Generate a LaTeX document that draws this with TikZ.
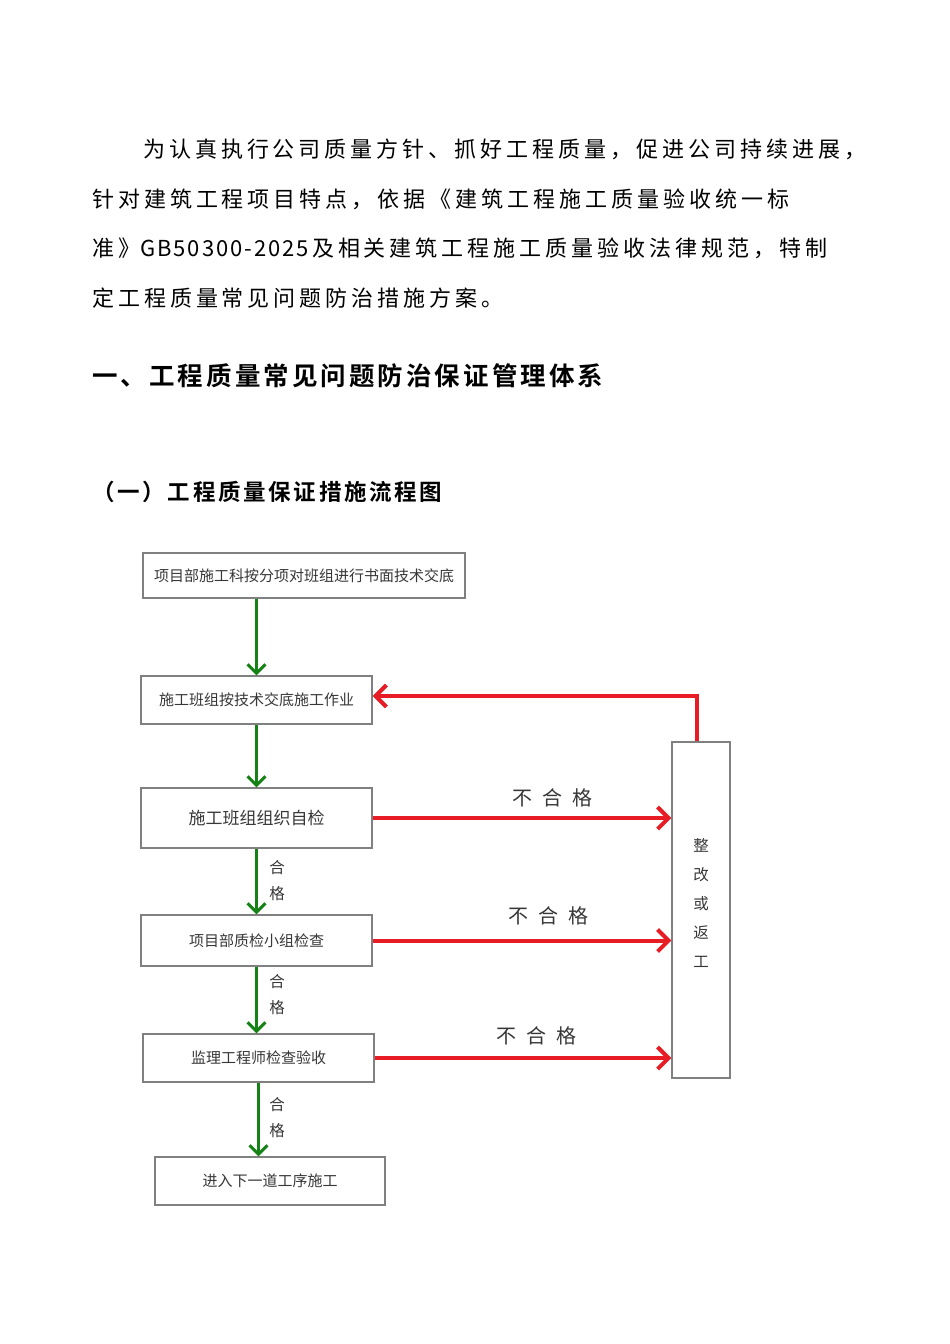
\documentclass[tikz,border=0pt]{standalone}
\usepackage{fontspec}
\setmainfont{Noto Sans CJK SC}
\newfontfamily\bodyfont[LetterSpace=18]{Noto Sans CJK SC}
\newfontfamily\codefont[LetterSpace=9]{Noto Sans CJK SC}
\newfontfamily\headfont[LetterSpace=12]{Noto Sans CJK SC Bold}
\newfontfamily\boxfont{Noto Sans CJK SC}
\definecolor{boxgray}{RGB}{128,128,128}
\definecolor{textgray}{RGB}{55,55,55}
\definecolor{passgreen}{RGB}{20,130,20}
\definecolor{failred}{RGB}{232,28,36}
\usetikzlibrary{arrows.meta,positioning}

\begin{document}
\begin{tikzpicture}[x=1pt,y=-1pt,
  body/.style={anchor=west,inner sep=0pt,font=\bodyfont\fontsize{22}{26}\selectfont},
  stepbox/.style={draw=boxgray,line width=1.2pt,inner sep=0pt,align=center,
        text=textgray,font=\boxfont\fontsize{15}{18}\selectfont},
  passarrow/.style={draw=passgreen,line width=3pt,-{Straight Barb[length=9pt,width=18pt]}},
  failarrow/.style={draw=failred,line width=4pt,-{Straight Barb[length=11pt,width=22pt]}},
  passlabel/.style={align=center,text=textgray,font=\boxfont\fontsize{15.5}{26}\selectfont},
  faillabel/.style={text=textgray,font=\boxfont\fontsize{20}{24}\selectfont}]
  \useasboundingbox[fill=white] (0,0) rectangle (950,1344);
  %% Introduction text
  \node[body] (line1) at (143,149) {为认真执行公司质量方针、抓好工程质量，促进公司持续进展，};
  \node[body] (line2) at (92,199) {针对建筑工程项目特点，依据《建筑工程施工质量验收统一标};
  \node[body] (line3) at (92,248) {准》{\codefont GB50300-2025}\hspace{3pt}及相关建筑工程施工质量验收法律规范，特制};
  \node[body] (line4) at (92,298) {定工程质量常见问题防治措施方案。};
  %% Headings
  \node[anchor=west,inner sep=0pt,font=\headfont\fontsize{25.5}{30}\selectfont]
        (title) at (92,376) {一、工程质量常见问题防治保证管理体系};
  \node[anchor=west,inner sep=0pt,font=\headfont\fontsize{22.5}{26}\selectfont]
        (subtitle) at (92,492) {（一）工程质量保证措施流程图};
  %% Flow boxes
  \node[stepbox,minimum width=322pt,minimum height=45pt] (brief) at (304,575.5)
        {项目部施工科按分项对班组进行书面技术交底};
  \node[stepbox,minimum width=231pt,minimum height=48pt] (work) at (256.5,700)
        {施工班组按技术交底施工作业};
  \node[stepbox,minimum width=231pt,minimum height=60pt,
        font=\boxfont\fontsize{17}{20}\selectfont] (self) at (256.5,818)
        {施工班组组织自检};
  \node[stepbox,minimum width=231pt,minimum height=51pt] (team) at (256.5,940.5)
        {项目部质检小组检查};
  \node[stepbox,minimum width=231pt,minimum height=48pt] (super) at (258.5,1058)
        {监理工程师检查验收};
  \node[stepbox,minimum width=230pt,minimum height=48pt] (next) at (270,1181)
        {进入下一道工序施工};
  \node[stepbox,minimum width=58pt,minimum height=336pt,
        label={[passlabel,font=\boxfont\fontsize{15.5}{29}\selectfont,yshift=7pt]center:整\\改\\或\\返\\工}]
        (fix) at (701,910) {};
  %% Pass arrows
  \draw[passarrow] (brief.south -| work.north) -- (work.north);
  \draw[passarrow] (work.south) -- (self.north);
  \draw[passarrow] (self.south) -- (team.north);
  \draw[passarrow] (team.south) -- (team.south |- super.north);
  \draw[passarrow] (super.south) -- (super.south |- next.north);
  \node[passlabel] (pass1) at (277,881) {合\\格};
  \node[passlabel] (pass2) at (277,995) {合\\格};
  \node[passlabel] (pass3) at (277,1118) {合\\格};
  %% Fail arrows
  \draw[failarrow] (self.east) -- (self.east -| fix.west);
  \draw[failarrow] (team.east) -- (team.east -| fix.west);
  \draw[failarrow] (super.east) -- (super.east -| fix.west);
  \draw[failarrow] ([xshift=-4pt]fix.north) |- ([yshift=4pt]work.east);
  \node[faillabel] (fail1) at (552,798) {不\hspace{0.5em}合\hspace{0.5em}格};
  \node[faillabel] (fail2) at (548,916) {不\hspace{0.5em}合\hspace{0.5em}格};
  \node[faillabel] (fail3) at (536,1036) {不\hspace{0.5em}合\hspace{0.5em}格};
\end{tikzpicture}
\end{document}
